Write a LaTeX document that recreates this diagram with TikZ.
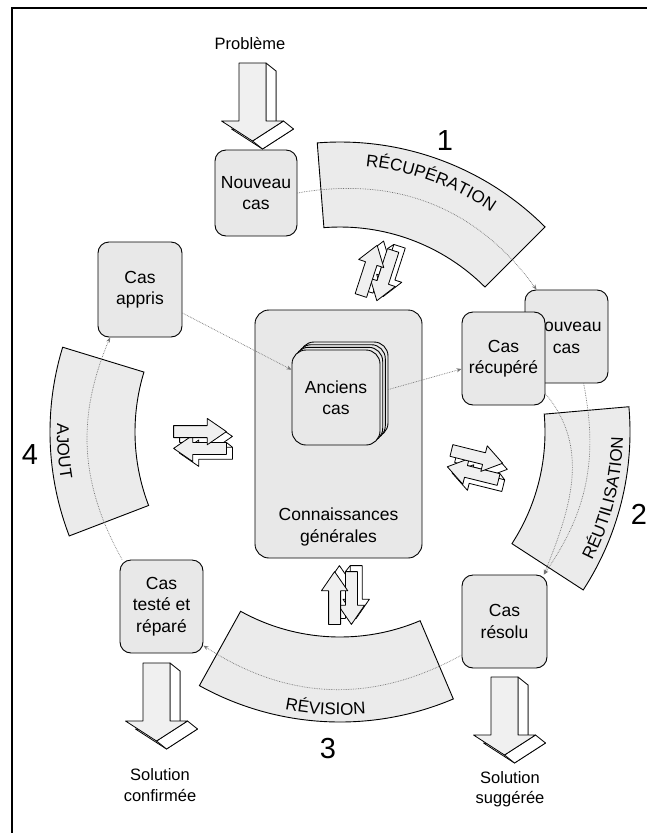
\documentclass[tikz,border=0pt]{standalone}
\usepackage{fontspec}
\setmainfont{Liberation Sans}
\usetikzlibrary{decorations.text,arrows.meta,calc}

\newcommand{\boxfont}{\fontsize{17.5}{21.5}\selectfont}
\newcommand{\bandfont}{\fontsize{17}{20}\selectfont}
\newcommand{\numfont}{\fontsize{29}{32}\selectfont}
\newcommand{\lblfont}{\fontsize{16.5}{20.5}\selectfont}

\tikzset{
  casebox/.style={draw=black, line width=0.9pt, fill=black!9, rounded corners=11pt,
    align=center, inner sep=0pt, minimum width=83pt, minimum height=93pt, font=\boxfont},
  band/.style={draw=black, line width=0.9pt, fill=black!8},
  bandlabel/.style={decorate, decoration={text along path, text align=center, text={|\bandfont|#1}}},
  flow/.style={draw=black!55, densely dotted, line width=0.7pt, -{Stealth[length=5pt,width=4pt]}},
  outlabel/.style={font=\lblfont, align=center, inner sep=0pt},
  stepnum/.style={font=\numfont, inner sep=0pt},
  face/.style={draw=black, line width=0.8pt, fill=white, line join=round},
  frontface/.style={face, fill=black!6},
  % large 3D arrow pointing down; origin = top left corner of the front face
  pics/downarrow/.style={code={
    \draw[face] (10,-8) -- (37,-8) -- (37,-66) -- (54.5,-66) -- (23.5,-86) -- (-7.5,-66) -- (10,-66) -- cycle;
    \draw[face] (27,0) -- (37,-8) -- (37,-66) -- (27,-58) -- cycle;
    \draw[face] (44.5,-58) -- (54.5,-66) -- (23.5,-86) -- (13.5,-78) -- cycle;
    \draw[frontface] (0,0) -- (27,0) -- (27,-58) -- (44.5,-58) -- (13.5,-78) -- (-17.5,-58) -- (0,-58) -- cycle;
  }},
  % small 3D pair of opposite arrows, centred on the origin
  pics/twoway/.style={code={
    \begin{scope}[shift={(5,-4)}]
      \draw[face] (-22,2) -- (6,2) -- (6,-4) -- (22,7) -- (6,18) -- (6,12) -- (-22,12) -- cycle;
      \draw[face] (22,-2) -- (-6,-2) -- (-6,4) -- (-22,-7) -- (-6,-18) -- (-6,-12) -- (22,-12) -- cycle;
    \end{scope}
    \draw[face] (22,-2) -- (27,-6);
    \draw[face] (-22,12) -- (-17,8);
    \draw[frontface] (22,-2) -- (-6,-2) -- (-6,4) -- (-22,-7) -- (-6,-18) -- (-6,-12) -- (22,-12) -- cycle;
    \draw[frontface] (-22,2) -- (6,2) -- (6,-4) -- (22,7) -- (6,18) -- (6,12) -- (-22,12) -- cycle;
  }}
}

\begin{document}
\begin{tikzpicture}[x=1pt,y=1pt]
\useasboundingbox (0,0) rectangle (647,-833);
\fill[white] (0,0) rectangle (647,-833);
\coordinate (C) at (340,-432);

% outer frame (top and left rules)
\draw[line width=2.6pt] (12,-833) -- (12,-8) -- (647,-8);

% the four phase bands of the cycle
\foreach \a/\b in {45/94.5, -33/5, 241/293, 163/201}{
  \draw[band] ($(C)+(\a:205pt)$) arc[start angle=\a, end angle=\b, radius=205pt]
    -- ($(C)+(\b:290pt)$) arc[start angle=\b, end angle=\a, radius=290pt] -- cycle;
}
\path[bandlabel={RÉCUPÉRATION}] ($(C)+(100:267pt)$) arc[start angle=100, end angle=40, radius=267pt];
\path[bandlabel={RÉUTILISATION}] ($(C)+(-44:283pt)$) arc[start angle=-44, end angle=16, radius=283pt];
\path[bandlabel={RÉVISION}] ($(C)+(237:283pt)$) arc[start angle=237, end angle=297, radius=283pt];
\path[bandlabel={AJOUT}] ($(C)+(154:283pt)$) arc[start angle=154, end angle=214, radius=283pt];

% step numbers
\node[stepnum] (n1) at (445,-141) {1};
\node[stepnum] (n2) at (639,-514) {2};
\node[stepnum] (n3) at (328,-749) {3};
\node[stepnum] (n4) at (30,-455) {4};

% central knowledge base with the stack of past cases
\node[casebox, minimum width=167pt, minimum height=248pt, rounded corners=14pt] (kb) at (338.5,-434) {};
\node[outlabel, font=\boxfont] (kbtext) at (338.5,-527) {Connaissances\\générales};
\node[casebox, minimum width=88pt, minimum height=95pt, rounded corners=14pt] (old3) at (344,-389.5) {};
\node[casebox, minimum width=88pt, minimum height=95pt, rounded corners=14pt] (old2) at (341.3,-392.2) {};
\node[casebox, minimum width=88pt, minimum height=95pt, rounded corners=14pt] (old1) at (338.7,-394.8) {};
\node[casebox, minimum width=88pt, minimum height=95pt, rounded corners=14pt] (old) at (336,-397.5) {Anciens\\cas};

% cases around the cycle
\node[casebox, minimum width=82pt, minimum height=86pt] (nc) at (256,-193) {Nouveau\\cas};
\node[casebox, minimum width=84pt, minimum height=95pt] (ca) at (140,-289.5) {Cas\\appris};
\node[casebox] (ncr) at (566.5,-336.5) {Nouveau\\cas};
\node[casebox] (cr) at (503.5,-358.5) {Cas\\récupéré};
\node[casebox, minimum width=85pt] (cres) at (504.5,-621.5) {Cas\\résolu};
\node[casebox] (ct) at (161.5,-606.5) {Cas\\testé et\\réparé};

% inputs and outputs
\node[outlabel] (prob) at (250,-44) {Problème};
\node[outlabel] (solc) at (160,-785) {Solution\\confirmée};
\node[outlabel] (sols) at (510,-789) {Solution\\suggérée};
\pic at (239,-63) {downarrow};
\pic at (143,-663) {downarrow};
\pic at (491,-677) {downarrow};

% flow of the cycle
\draw[flow] (nc.east) to[bend left=32] ([xshift=12pt]ncr.north west);
\draw[flow] (old3.east) -- (cr.194);
\draw[flow] (ca.-29) -- (old.148);
\draw[flow] (cr.-40) to[out=-50, in=68] (cres.50);
\draw[flow] (ncr.-70) to[bend left=23] (cres.50);
\draw[flow] (cres.218) to[bend left=31] (ct.-43);
\draw[flow] (ct.130) to[bend left=26] (ca.238);

% exchanges with the general knowledge
\pic[rotate=72, scale=1.2] at (377,-273) {twoway};
\pic[scale=1.2] at (200,-440) {twoway};
\pic[rotate=-14, scale=1.2] at (475,-465) {twoway};
\pic[rotate=90, scale=1.2] at (343,-598) {twoway};
\end{tikzpicture}
\end{document}
